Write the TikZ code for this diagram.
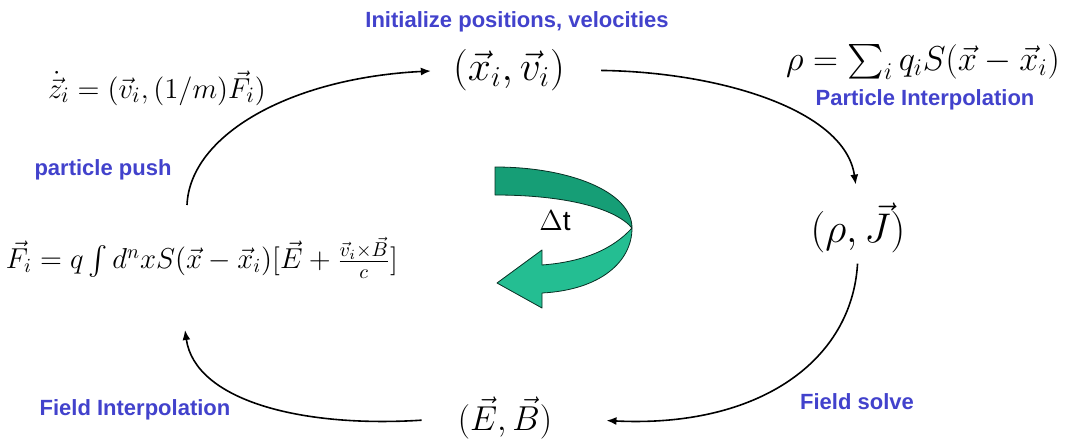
\documentclass[tikz,border=0pt]{standalone}
\usepackage{fontspec}
\setsansfont{Liberation Sans}
\usepackage{amsmath}
\usetikzlibrary{arrows.meta, positioning}
\definecolor{lblblue}{RGB}{66,66,204}
\definecolor{ribbonlight}{RGB}{36,190,146}
\definecolor{ribbondark}{RGB}{22,158,118}

\begin{document}
\begin{tikzpicture}[x=0.5pt, y=-0.5pt,
            lbl/.style={font=\sffamily\bfseries\fontsize{11}{12}\selectfont, text=lblblue, inner sep=1pt},
            state/.style={font=\fontsize{21}{24}\selectfont, inner sep=1pt},
            eqn/.style={font=\fontsize{13.6}{16}\selectfont, inner sep=1pt},
            flow/.style={draw, thick, -{Latex[length=5pt,width=4pt]}}]
            \useasboundingbox (0,0) rectangle (1070,444);
            % states of the cycle
            \node[state] (xv) at (509,70) {$(\vec{x}_i,\vec{v}_i)$};
            \node[state] (rhoj) at (858,228) {$(\rho,\vec{J})$};
            \node[state, font=\fontsize{19}{22}\selectfont] (eb) at (505,418) {$(\vec{E},\vec{B})$};
            \node[lbl] (init) at (517,22) {Initialize positions, velocities};
            % equations
            \node[eqn, font=\fontsize{15.5}{18}\selectfont] (zdot) at (157,88) {$\dot{\vec{z}}_i=(\vec{v}_i,(1/m)\vec{F}_i)$};
            \node[eqn] (force) at (202,258) {$\vec{F}_i=q\textstyle\int d^nxS(\vec{x}-\vec{x}_i)[\vec{E}+\frac{\vec{v}_i\times\vec{B}}{c}]$};
            \node[eqn, font=\fontsize{17}{20}\selectfont] (rhoeq) at (923,62) {$\rho=\textstyle\sum_i q_iS(\vec{x}-\vec{x}_i)$};
            % step labels
            \node[lbl] (push) at (103,170) {particle push};
            \node[lbl] (partint) at (925,100) {Particle Interpolation};
            \node[lbl] (fieldsolve) at (857,402) {Field solve};
            \node[lbl] (fieldint) at (135,410) {Field Interpolation};
            % connectors
            \coordinate (pushstart) at (187,205);
            \coordinate (fieldend) at (185,330);
            \draw[flow, shorten >=10pt] (pushstart) .. controls (190,135) and (290,78) .. (xv.west);
            \draw[flow, shorten <=17pt, shorten >=8pt] (xv.east) .. controls (720,72) and (845,110) .. (rhoj.north);
            \draw[flow, shorten <=4pt, shorten >=26pt] (rhoj.south) .. controls (852,360) and (760,428) .. (eb.east);
            \draw[flow, shorten <=17pt] (eb.west) .. controls (300,428) and (195,400) .. (fieldend);
            % time step ribbon
            \draw[fill=ribbondark, draw=black!70!ribbondark, line join=round]
              (495,167) .. controls (570,167) and (632,192) .. (632,228)
              .. controls (615,208) and (565,195) .. (495,195) -- cycle;
            \draw[fill=ribbonlight, draw=black!70!ribbondark, line join=round]
              (632,228) .. controls (612,250) and (582,262) .. (542,265)
              -- (542,250) -- (497,283) -- (542,308) -- (542,293)
              .. controls (600,290) and (632,262) .. (632,228) -- cycle;
            \node[font=\sffamily\fontsize{14}{16}\selectfont, inner sep=0pt] (dt) at (555,221) {$\Delta$t};
\end{tikzpicture}
\end{document}
